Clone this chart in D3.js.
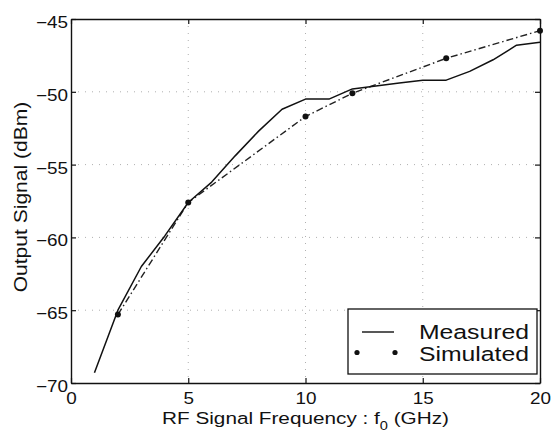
<!DOCTYPE html>
<html><head><meta charset="utf-8">
<script src="https://cdn.jsdelivr.net/npm/d3@7"></script>
<style>
html,body{margin:0;padding:0;background:#fff;}
svg{display:block;}
text{font-family:"Liberation Sans",Arial,Helvetica,sans-serif;fill:#111;}
</style></head>
<body>
<svg id="chart" width="553" height="436"></svg>
<script>
// ---- data ----
const xTicks = [0, 5, 10, 15, 20];
const yTicks = [-70, -65, -60, -55, -50, -45];
const measuredFreq = [1, 2, 3, 4, 5, 6, 7, 8, 9, 10, 11, 12, 13, 14, 15, 16, 17, 18, 19, 20];
const measuredDb   = [-69.3, -65.0, -62.0, -59.9, -57.6, -56.2, -54.4, -52.7, -51.2, -50.5, -50.5, -49.8, -49.6, -49.4, -49.2, -49.2, -48.6, -47.8, -46.8, -46.6];
const simFreq = [2, 5, 10, 12, 16, 20];
const simDb   = [-65.3, -57.6, -51.7, -50.1, -47.7, -45.8];
const legendLabels = ["Measured", "Simulated"];
const xLabel = "RF Signal Frequency : f";
const xLabelSub = "0";
const xLabelTail = " (GHz)";
const yLabel = "Output Signal (dBm)";

// ---- layout ----
const svg = d3.select("#chart");
const L = 71, R = 540, T = 19, B = 383;
const x = d3.scaleLinear().domain([0, 20]).range([L, R]);
const y = d3.scaleLinear().domain([-70, -45]).range([B, T]);
const SX = 1.18;

svg.append("rect").attr("width", 553).attr("height", 436).attr("fill", "#fff");

// grid (dotted)
const grid = svg.append("g").attr("stroke", "#b0b0b0").attr("stroke-width", 1).attr("stroke-dasharray", "1,6");
grid.selectAll("line.v").data(xTicks.slice(1, -1)).join("line")
  .attr("x1", d => x(d)).attr("x2", d => x(d)).attr("y1", T).attr("y2", B);
grid.selectAll("line.h").data(yTicks.slice(1, -1)).join("line")
  .attr("y1", d => y(d)).attr("y2", d => y(d)).attr("x1", L).attr("x2", R);

function styleAxis(g) {
  g.select(".domain").attr("stroke", "#111").attr("stroke-width", 1.4);
  g.selectAll(".tick line").attr("stroke", "#111").attr("stroke-width", 1.2);
}

// bottom axis
const gx = svg.append("g").attr("transform", `translate(0,${B})`)
  .call(d3.axisBottom(x).tickValues(xTicks).tickSizeInner(-5).tickSizeOuter(0).tickPadding(10).tickFormat(d3.format("d")));
styleAxis(gx);
gx.selectAll(".tick text").attr("font-size", 16).attr("fill", "#111")
  .attr("transform", `scale(${SX},1)`);

// left axis
const gy = svg.append("g").attr("transform", `translate(${L},0)`)
  .call(d3.axisLeft(y).tickValues(yTicks).tickSizeInner(-5).tickSizeOuter(0).tickPadding(3)
    .tickFormat(d => String(d).replace("-", "\u2212")));
styleAxis(gy);
gy.selectAll(".tick text").attr("font-size", 16).attr("fill", "#111")
  .attr("x", -3 / SX).attr("dy", "8.5px")
  .attr("transform", `scale(${SX},1)`);

// top and right axes (no labels)
const gt = svg.append("g").attr("transform", `translate(0,${T})`)
  .call(d3.axisTop(x).tickValues(xTicks).tickSizeInner(-5).tickSizeOuter(0).tickFormat(""));
styleAxis(gt);
const gr = svg.append("g").attr("transform", `translate(${R},0)`)
  .call(d3.axisRight(y).tickValues(yTicks).tickSizeInner(-5).tickSizeOuter(0).tickFormat(""));
styleAxis(gr);

// lines
const measured = measuredFreq.map((f, i) => [f, measuredDb[i]]);
const simulated = simFreq.map((f, i) => [f, simDb[i]]);
const line = d3.line().x(d => x(d[0])).y(d => y(d[1]));

svg.append("path").datum(simulated).attr("d", line)
  .attr("fill", "none").attr("stroke", "#222").attr("stroke-width", 1.4)
  .attr("stroke-dasharray", "7,3,1.5,3");
svg.append("path").datum(measured).attr("d", line)
  .attr("fill", "none").attr("stroke", "#111").attr("stroke-width", 1.5)
  .attr("stroke-linejoin", "round");
svg.selectAll("circle.sim").data(simulated).join("circle")
  .attr("cx", d => x(d[0])).attr("cy", d => y(d[1])).attr("r", 3).attr("fill", "#111");

// axis labels
const xl = svg.append("g").attr("transform", `translate(${(L + R) / 2},424)`)
  .append("text").attr("text-anchor", "middle").attr("font-size", 17)
  .attr("transform", "scale(1.22,1)");
xl.append("tspan").text(xLabel);
xl.append("tspan").attr("font-size", 12).attr("dy", 6).text(xLabelSub);
xl.append("tspan").attr("dy", -6).text(xLabelTail);

svg.append("g").attr("transform", `translate(27,${(T + B) / 2 - 4}) rotate(-90)`)
  .append("text").attr("text-anchor", "middle").attr("font-size", 18)
  .attr("transform", "scale(1.17,1)").text(yLabel);

// legend
const lg = svg.append("g");
lg.append("rect").attr("x", 348).attr("y", 309).attr("width", 189).attr("height", 65)
  .attr("fill", "#fff").attr("stroke", "#111").attr("stroke-width", 1.3);
lg.append("line").attr("x1", 362).attr("x2", 394).attr("y1", 332).attr("y2", 332)
  .attr("stroke", "#111").attr("stroke-width", 1.4);
lg.selectAll("circle.lg").data([357, 395]).join("circle")
  .attr("cx", d => d).attr("cy", 352.5).attr("r", 2.6).attr("fill", "#111");
lg.selectAll("g.lt").data(legendLabels).join("g")
  .attr("transform", (d, i) => `translate(529,${338.5 + i * 22})`)
  .append("text").attr("text-anchor", "end").attr("font-size", 19.5)
  .attr("transform", "scale(1.27,1)").text(d => d);
</script>
</body></html>
